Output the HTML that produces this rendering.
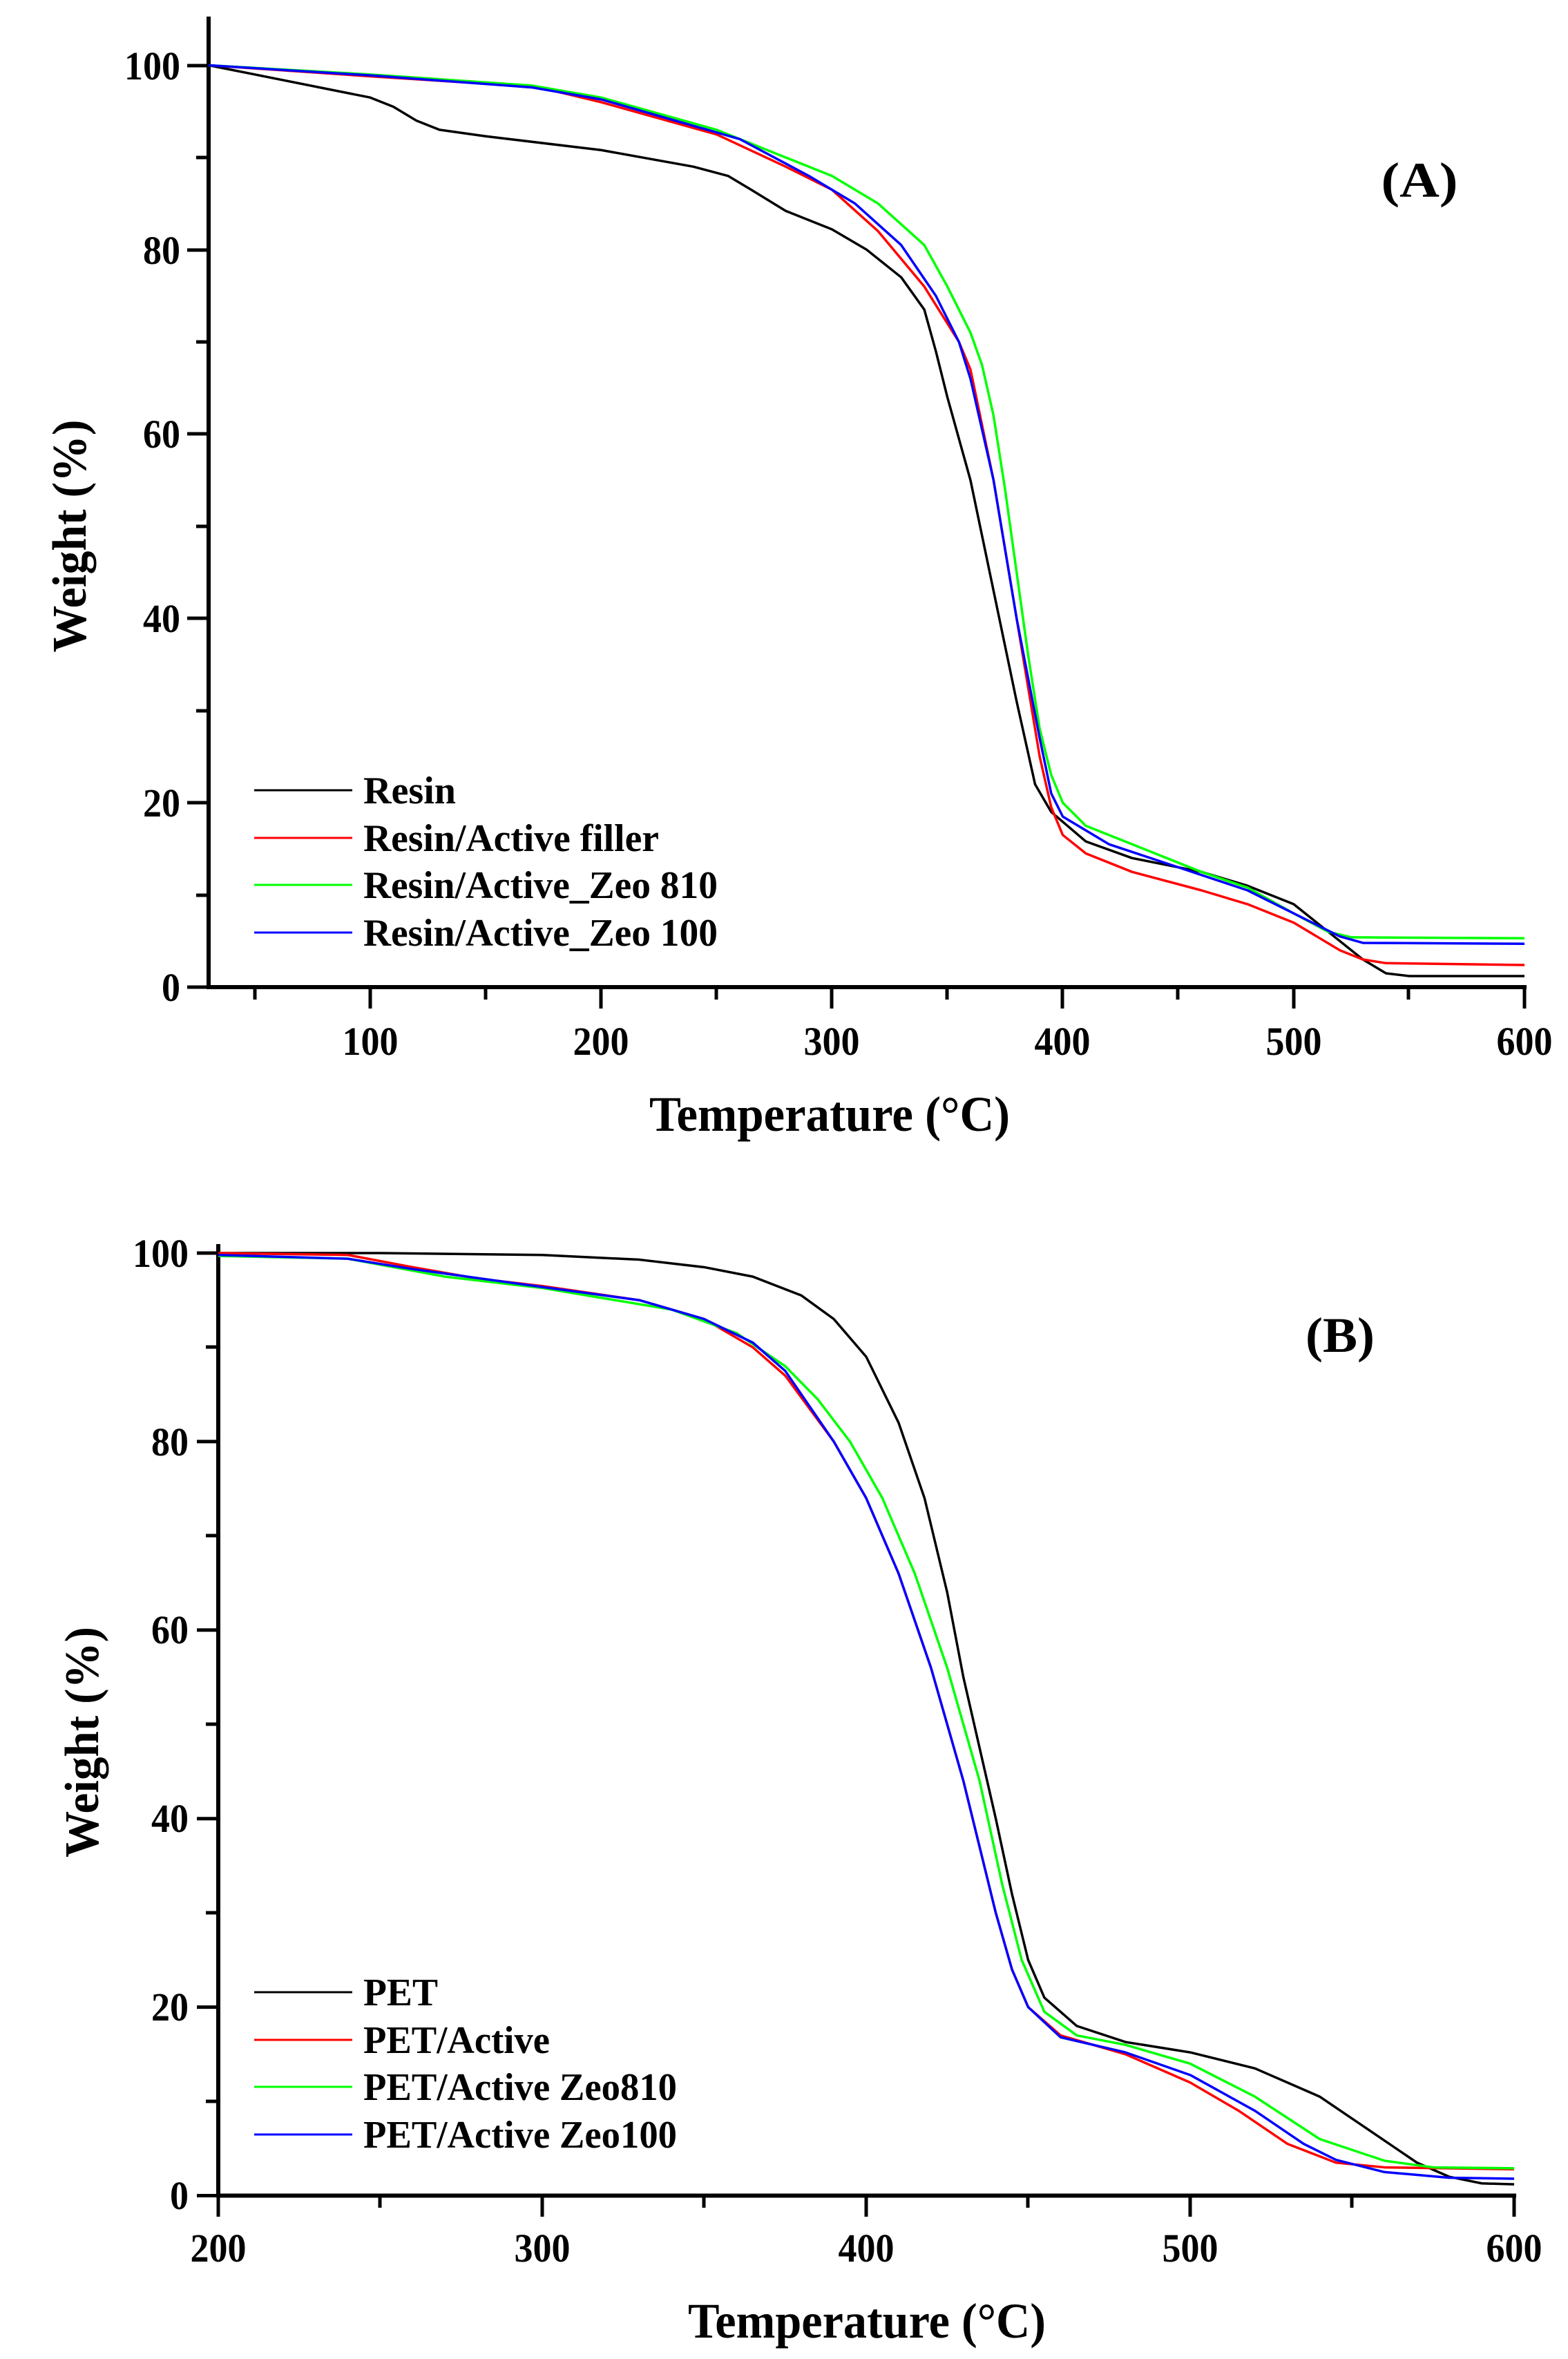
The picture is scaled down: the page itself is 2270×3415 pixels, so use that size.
<!DOCTYPE html>
<html><head><meta charset="utf-8"><style>
html,body{margin:0;padding:0;background:#fff;}
svg{display:block;}
text{font-family:"Liberation Serif",serif;font-weight:bold;fill:#000;}
</style></head><body>
<svg width="2270" height="3415" viewBox="0 0 2270 3415" xmlns="http://www.w3.org/2000/svg">
<!-- ========== Chart A ========== -->
<g stroke="#000" stroke-width="6" fill="none">
<line x1="302" y1="24" x2="302" y2="1432"/>
<line x1="299" y1="1429" x2="2210" y2="1429"/>
</g>
<g stroke="#000" stroke-width="5">
<line x1="536" y1="1429" x2="536" y2="1460"/><line x1="870" y1="1429" x2="870" y2="1460"/><line x1="1204" y1="1429" x2="1204" y2="1460"/><line x1="1538" y1="1429" x2="1538" y2="1460"/><line x1="1873" y1="1429" x2="1873" y2="1460"/><line x1="2207" y1="1429" x2="2207" y2="1460"/>
<line x1="369" y1="1429" x2="369" y2="1447"/><line x1="703" y1="1429" x2="703" y2="1447"/><line x1="1037" y1="1429" x2="1037" y2="1447"/><line x1="1371" y1="1429" x2="1371" y2="1447"/><line x1="1705" y1="1429" x2="1705" y2="1447"/><line x1="2039" y1="1429" x2="2039" y2="1447"/>
<line x1="271" y1="1429" x2="302" y2="1429"/><line x1="271" y1="1162" x2="302" y2="1162"/><line x1="271" y1="895" x2="302" y2="895"/><line x1="271" y1="628" x2="302" y2="628"/><line x1="271" y1="362" x2="302" y2="362"/><line x1="271" y1="95" x2="302" y2="95"/>
<line x1="284" y1="1296" x2="302" y2="1296"/><line x1="284" y1="1029" x2="302" y2="1029"/><line x1="284" y1="762" x2="302" y2="762"/><line x1="284" y1="495" x2="302" y2="495"/><line x1="284" y1="228" x2="302" y2="228"/>
</g>
<g font-size="58" text-anchor="middle">
<text x="536" y="1527" textLength="81" lengthAdjust="spacingAndGlyphs">100</text>
<text x="870" y="1527" textLength="81" lengthAdjust="spacingAndGlyphs">200</text>
<text x="1204" y="1527" textLength="81" lengthAdjust="spacingAndGlyphs">300</text>
<text x="1538" y="1527" textLength="81" lengthAdjust="spacingAndGlyphs">400</text>
<text x="1873" y="1527" textLength="81" lengthAdjust="spacingAndGlyphs">500</text>
<text x="2207" y="1527" textLength="81" lengthAdjust="spacingAndGlyphs">600</text>
</g>
<g font-size="58" text-anchor="end">
<text x="261" y="1449" textLength="27" lengthAdjust="spacingAndGlyphs">0</text>
<text x="261" y="1182" textLength="54" lengthAdjust="spacingAndGlyphs">20</text>
<text x="261" y="915" textLength="54" lengthAdjust="spacingAndGlyphs">40</text>
<text x="261" y="648" textLength="54" lengthAdjust="spacingAndGlyphs">60</text>
<text x="261" y="382" textLength="54" lengthAdjust="spacingAndGlyphs">80</text>
<text x="261" y="115" textLength="81" lengthAdjust="spacingAndGlyphs">100</text>
</g>
<text x="1201" y="1637" font-size="72" text-anchor="middle" textLength="522" lengthAdjust="spacingAndGlyphs">Temperature (°C)</text>
<text transform="translate(124,776) rotate(-90)" font-size="70" text-anchor="middle" textLength="337" lengthAdjust="spacingAndGlyphs">Weight (%)</text>
<text x="2055" y="285" font-size="72" text-anchor="middle" textLength="111" lengthAdjust="spacingAndGlyphs">(A)</text>
<g stroke-width="3">
<line x1="368" y1="1144" x2="510" y2="1144" stroke="#000"/>
<line x1="368" y1="1213" x2="510" y2="1213" stroke="#f00"/>
<line x1="368" y1="1281" x2="510" y2="1281" stroke="#0f0"/>
<line x1="368" y1="1350" x2="510" y2="1350" stroke="#00f"/>
</g>
<g font-size="56">
<text x="526" y="1163" textLength="134" lengthAdjust="spacingAndGlyphs">Resin</text>
<text x="526" y="1232" textLength="428" lengthAdjust="spacingAndGlyphs">Resin/Active filler</text>
<text x="526" y="1300" textLength="513" lengthAdjust="spacingAndGlyphs">Resin/Active_Zeo 810</text>
<text x="526" y="1369" textLength="513" lengthAdjust="spacingAndGlyphs">Resin/Active_Zeo 100</text>
</g>
<g transform="matrix(3.342 0 0 -13.345 201.8 1429)" fill="none" stroke-width="3.5" stroke-linejoin="round">
<polyline vector-effect="non-scaling-stroke" stroke="#000" points="30,100 50,99 80,97.5 100,96.5 110,95.5 120,94 130,93 150,92.3 200,90.8 240,89 255,88 265,86.5 280,84.2 300,82.2 315,80 330,77 340,73.5 345,69 350,64 360,55 370,43 380,31 388,22 395,19 410,15.8 430,14 460,12.5 480,11 500,9 515,6 530,3 540,1.5 550,1.2 600,1.2"/>
<polyline vector-effect="non-scaling-stroke" stroke="#f00" points="30,100 100,98.8 150,98 175,97.5 200,96 250,92.5 280,89 300,86.5 320,82 340,76 355,70 360,67 370,55 380,40 390,25 395,19.5 400,16.5 410,14.5 430,12.5 460,10.5 480,9 500,7 520,4 530,3 540,2.6 600,2.4"/>
<polyline vector-effect="non-scaling-stroke" stroke="#0f0" points="30,100 100,99 170,97.8 200,96.5 250,93 280,90 300,88 320,85 340,80.5 350,76 360,71 365,67.5 370,62 375,54 380,45 385,36 390,28 395,23 400,20 410,17.5 430,15.5 460,12.5 480,10.8 500,8 515,6 525,5.4 600,5.3"/>
<polyline vector-effect="non-scaling-stroke" stroke="#00f" points="30,100 100,98.9 170,97.6 200,96.3 260,92 290,88 310,85 330,80.5 345,75 355,70 360,66 370,55 380,40 390,27 395,21 400,18.5 420,15.5 450,13 480,10.5 500,8 520,5.5 530,4.8 600,4.7"/>
</g>

<!-- ========== Chart B ========== -->
<g stroke="#000" stroke-width="6" fill="none">
<line x1="316" y1="1801" x2="316" y2="3181"/>
<line x1="313" y1="3178.5" x2="2195" y2="3178.5"/>
</g>
<g stroke="#000" stroke-width="5">
<line x1="316" y1="3178" x2="316" y2="3209"/><line x1="785" y1="3178" x2="785" y2="3209"/><line x1="1254" y1="3178" x2="1254" y2="3209"/><line x1="1723" y1="3178" x2="1723" y2="3209"/><line x1="2192" y1="3178" x2="2192" y2="3209"/>
<line x1="550" y1="3178" x2="550" y2="3196"/><line x1="1019" y1="3178" x2="1019" y2="3196"/><line x1="1488" y1="3178" x2="1488" y2="3196"/><line x1="1957" y1="3178" x2="1957" y2="3196"/>
<line x1="285" y1="3178.5" x2="316" y2="3178.5"/><line x1="285" y1="2905.6" x2="316" y2="2905.6"/><line x1="285" y1="2632.7" x2="316" y2="2632.7"/><line x1="285" y1="2359.8" x2="316" y2="2359.8"/><line x1="285" y1="2086.9" x2="316" y2="2086.9"/><line x1="285" y1="1814" x2="316" y2="1814"/>
<line x1="298" y1="3042" x2="316" y2="3042"/><line x1="298" y1="2769" x2="316" y2="2769"/><line x1="298" y1="2496" x2="316" y2="2496"/><line x1="298" y1="2223" x2="316" y2="2223"/><line x1="298" y1="1950" x2="316" y2="1950"/>
</g>
<g font-size="58" text-anchor="middle">
<text x="316" y="3274" textLength="81" lengthAdjust="spacingAndGlyphs">200</text>
<text x="785" y="3274" textLength="81" lengthAdjust="spacingAndGlyphs">300</text>
<text x="1254" y="3274" textLength="81" lengthAdjust="spacingAndGlyphs">400</text>
<text x="1723" y="3274" textLength="81" lengthAdjust="spacingAndGlyphs">500</text>
<text x="2192" y="3274" textLength="81" lengthAdjust="spacingAndGlyphs">600</text>
</g>
<g font-size="58" text-anchor="end">
<text x="273" y="3198" textLength="27" lengthAdjust="spacingAndGlyphs">0</text>
<text x="273" y="2925" textLength="54" lengthAdjust="spacingAndGlyphs">20</text>
<text x="273" y="2652" textLength="54" lengthAdjust="spacingAndGlyphs">40</text>
<text x="273" y="2379" textLength="54" lengthAdjust="spacingAndGlyphs">60</text>
<text x="273" y="2107" textLength="54" lengthAdjust="spacingAndGlyphs">80</text>
<text x="273" y="1834" textLength="81" lengthAdjust="spacingAndGlyphs">100</text>
</g>
<text x="1255" y="3384" font-size="72" text-anchor="middle" textLength="518" lengthAdjust="spacingAndGlyphs">Temperature (°C)</text>
<text transform="translate(142,2522) rotate(-90)" font-size="70" text-anchor="middle" textLength="334" lengthAdjust="spacingAndGlyphs">Weight (%)</text>
<text x="1940" y="1957" font-size="72" text-anchor="middle" textLength="100" lengthAdjust="spacingAndGlyphs">(B)</text>
<g stroke-width="3">
<line x1="368" y1="2884" x2="510" y2="2884" stroke="#000"/>
<line x1="368" y1="2953" x2="510" y2="2953" stroke="#f00"/>
<line x1="368" y1="3021" x2="510" y2="3021" stroke="#0f0"/>
<line x1="368" y1="3090" x2="510" y2="3090" stroke="#00f"/>
</g>
<g font-size="56">
<text x="526" y="2903" textLength="108" lengthAdjust="spacingAndGlyphs">PET</text>
<text x="526" y="2972" textLength="270" lengthAdjust="spacingAndGlyphs">PET/Active</text>
<text x="526" y="3040" textLength="454" lengthAdjust="spacingAndGlyphs">PET/Active Zeo810</text>
<text x="526" y="3109" textLength="454" lengthAdjust="spacingAndGlyphs">PET/Active Zeo100</text>
</g>
<g transform="matrix(4.69 0 0 -13.645 -622 3178.5)" fill="none" stroke-width="3.5" stroke-linejoin="round">
<polyline vector-effect="non-scaling-stroke" stroke="#000" points="200,100 250,100 300,99.8 330,99.3 350,98.5 365,97.5 380,95.5 390,93 400,89 410,82 418,74 425,64 430,55 440,40 445,32 450,25 455,21 465,18 480,16.3 500,15.2 520,13.5 540,10.5 555,7 570,3.5 580,2 590,1.3 600,1.2"/>
<polyline vector-effect="non-scaling-stroke" stroke="#f00" points="200,100 240,99.8 260,98.5 280,97.3 300,96.5 330,95 350,93 365,90 375,87 390,80 400,74 410,66 420,56 430,44 440,30 445,24 450,20 460,17 480,15 500,12 515,9 530,5.5 545,3.5 560,3 600,2.8"/>
<polyline vector-effect="non-scaling-stroke" stroke="#0f0" points="200,99.7 240,99.4 270,97.5 300,96.3 340,94 360,91.5 375,88 385,84.5 395,80 405,74 415,66 425,56 435,44 442,33 448,25 455,19.5 465,17 480,16 500,14 520,10.5 540,6 560,3.7 575,3 600,2.9"/>
<polyline vector-effect="non-scaling-stroke" stroke="#00f" points="200,99.8 240,99.4 260,98.3 300,96.4 330,95 350,93 365,90.5 375,87.5 390,80 400,74 410,66 420,56 430,44 440,30 445,24 450,20 460,16.8 480,15.2 500,12.8 520,9 535,5.5 545,3.8 560,2.5 580,1.9 600,1.8"/>
</g>
</svg>
</body></html>
